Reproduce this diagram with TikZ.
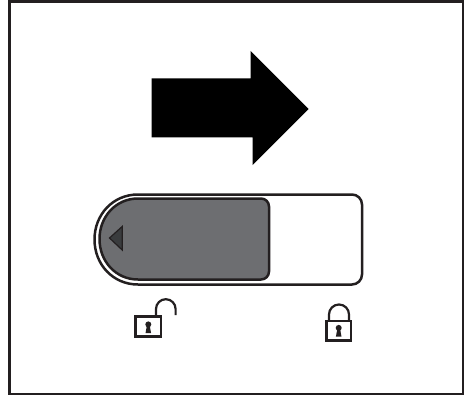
\documentclass[tikz,border=0pt]{standalone}
\definecolor{ink}{HTML}{231F20}
\definecolor{slider}{HTML}{6D6E71}
\definecolor{tri}{HTML}{3A3C3E}
\tikzset{
  frameline/.style={draw=ink,line width=2.4pt},
  casing/.style={draw=ink,line width=2.5pt,fill=white},
  thumb/.style={draw=ink,line width=2.5pt,fill=slider},
  lockline/.style={draw=ink,line width=2.2pt},
  keyhole/.pic={
    \fill[ink] (0,2.6) circle (3);
    \fill[ink] (-1.4,1.5) -- (1.4,1.5) -- (2.8,-6.2) -- (-2.8,-6.2) -- cycle;
  }
}
\begin{document}
\begin{tikzpicture}[x=1pt,y=1pt]
\useasboundingbox (0,-396) rectangle (465,0);
\fill[white] (0,-396) rectangle (465,0);
\draw[frameline] (9.5,-1.5) rectangle (463,-394);
% big arrow
\fill[black] (151.5,-78.3) -- (250.7,-78.3) -- (250.7,-51) -- (308.7,-109) -- (252.7,-165) -- (252.7,-137.3) -- (151.5,-137.3) -- cycle;
% switch casing
\draw[casing] (138,-194.5) -- (352,-194.5) arc[start angle=90,end angle=0,radius=10]
  -- (362,-274.5) arc[start angle=0,end angle=-90,radius=10]
  -- (138,-284.5) .. controls (113,-284.5) and (94.5,-264.5) .. (94.5,-239.5)
  .. controls (94.5,-214.5) and (113,-194.5) .. (138,-194.5) -- cycle;
% slider thumb
\draw[thumb] (138,-198.5) -- (261,-198.5) arc[start angle=90,end angle=0,radius=8]
  -- (269,-271.5) arc[start angle=0,end angle=-90,radius=8]
  -- (138,-279.5) .. controls (116,-279.5) and (99.5,-261.5) .. (99.5,-239)
  .. controls (99.5,-216.5) and (116,-198.5) .. (138,-198.5) -- cycle;
\draw[ink,fill=tri,line width=1.2pt,line join=miter] (109.5,-238) -- (122.2,-226.5) -- (122.2,-250) -- cycle;
% open lock
\draw[lockline] (135.5,-316.5) rectangle (161,-336.5);
\draw[lockline] (156,-316) -- (156,-309) arc[start angle=180,end angle=0,radius=9.8] -- (175.6,-315);
\pic at (148.3,-327) {keyhole};
% closed lock
\draw[lockline] (326.5,-321) rectangle (351.2,-340.5);
\draw[lockline] (329,-321) -- (329,-314.5) arc[start angle=180,end angle=0,radius=10] -- (349,-321);
\pic at (338.7,-330.5) {keyhole};
\end{tikzpicture}
\end{document}
